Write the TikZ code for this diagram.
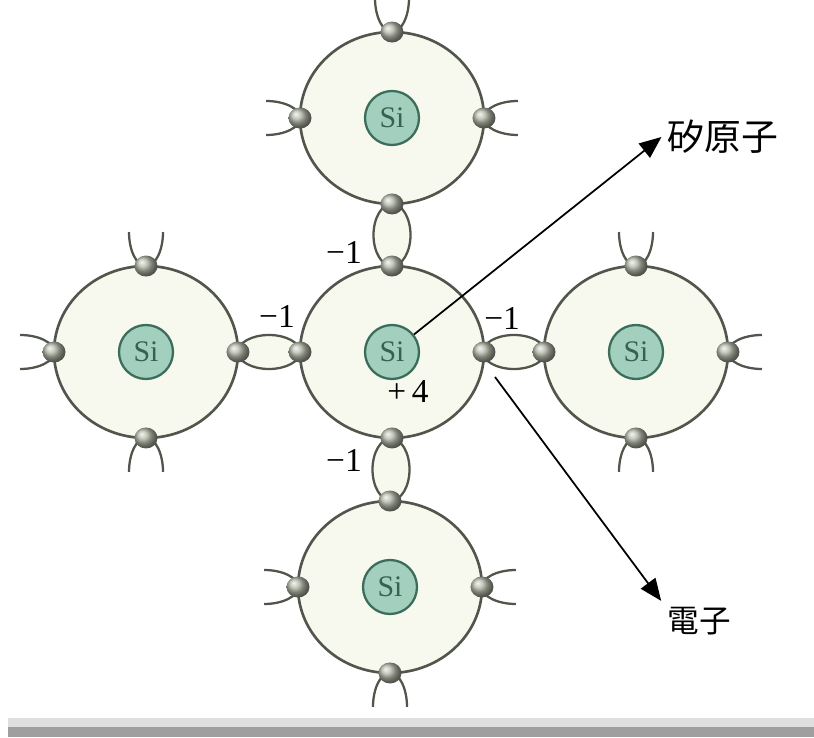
\documentclass[tikz,border=0pt]{standalone}
\usepackage{fontspec}
\setmainfont{Liberation Serif}
\newfontfamily\cjk{Noto Sans CJK TC}
\usepackage{tikz}
\usetikzlibrary{shapes.geometric,arrows.meta,calc}
\definecolor{sigray}{HTML}{50564B}
\definecolor{sifill}{HTML}{F7F9EF}
\definecolor{nucfill}{HTML}{A3CFBE}
\definecolor{nucdark}{HTML}{3C6D5B}
\definecolor{elgray}{HTML}{B4B8A8}

\begin{document}
\begin{tikzpicture}[x=0.02cm, y=0.02cm,
  atom/.style={ellipse, draw=sigray, fill=sifill, line width=1.5pt,
               minimum width=3.68cm, minimum height=3.44cm, outer sep=0pt},
  nuc/.style={circle, draw=nucdark, fill=nucfill, line width=1.3pt,
              minimum size=1.08cm, inner sep=0pt,
              font=\fontsize{17}{17}\selectfont\color{nucdark!90!black}},
  elec/.style={ellipse, ball color=elgray, minimum width=0.46cm,
               minimum height=0.42cm, inner sep=0pt},
  vbond/.style={ellipse, draw=sigray, fill=sifill, line width=1.3pt,
                minimum width=0.74cm, minimum height=1.24cm, inner sep=0pt},
  hbond/.style={vbond, minimum width=1.24cm, minimum height=0.68cm},
  ends/.style={draw=sigray, line width=1.3pt},
  chg/.style={font=\fontsize{19}{19}\selectfont},
  lbl/.style={font=\cjk\fontsize{21}{21}\selectfont},
  arr/.style={draw=black, line width=1pt, -{Triangle[length=0.44cm,width=0.36cm]}}
]
  \useasboundingbox (0,0) rectangle (814,737);
  \clip (0,0) rectangle (814,737);

  % five silicon atoms
  \node[atom] (t) at (392,619) {};
  \node[atom] (c) at (392,385) {};
  \node[atom] (l) at (146,385) {};
  \node[atom] (r) at (636,385) {};
  \node[atom] (b) at (390,150) {};

  % shared electron pairs
  \node[vbond] (tc) at ($(t.south)!.5!(c.north)$) {};
  \node[vbond] (cb) at ($(c.south)!.5!(b.north)$) {};
  \node[hbond] (lc) at ($(l.east)!.5!(c.west)$) {};
  \node[hbond] (cr) at ($(c.east)!.5!(r.west)$) {};

  % open bonds on the outer atoms
  \foreach \a/\an/\r in {t/north/0, t/west/90, t/east/-90,
                         l/north/0, l/west/90, l/south/180,
                         r/north/0, r/east/-90, r/south/180,
                         b/west/90, b/east/-90, b/south/180}
    \draw[ends, shift={(\a.\an)}, rotate=\r]
      (-17,34) arc[start angle=180, end angle=360, x radius=17, y radius=34];

  \foreach \a in {t,c,l,r,b}
    \node[nuc] (\a0) at (\a) {Si};

  \foreach \a in {t,c,l,r,b}
    \foreach \d/\an in {n/north,e/east,s/south,w/west}
      \node[elec] (\a\d) at (\a.\an) {};

  \node[chg] (q1) at (344,485) {−1};
  \node[chg] (q2) at (277,421) {−1};
  \node[chg] (q3) at (502,419) {−1};
  \node[chg] (q4) at (344,277) {−1};
  \node[chg] (q0) at (408,345) {+\,4};

  \node[lbl] (atomlbl) at (723,600) {矽原子};
  \node[lbl, font=\cjk\fontsize{18}{18}\selectfont] (elbl) at (699,116) {電子};
  \coordinate (etail) at (495,360);

  \draw[arr] (c0) -- (atomlbl.west);
  \draw[arr] (etail) -- (elbl.north west);

  % rule along the bottom
  \fill[gray!25] (8,10) rectangle (814,19);
  \fill[gray!75] (8,0) rectangle (814,10);
\end{tikzpicture}
\end{document}
